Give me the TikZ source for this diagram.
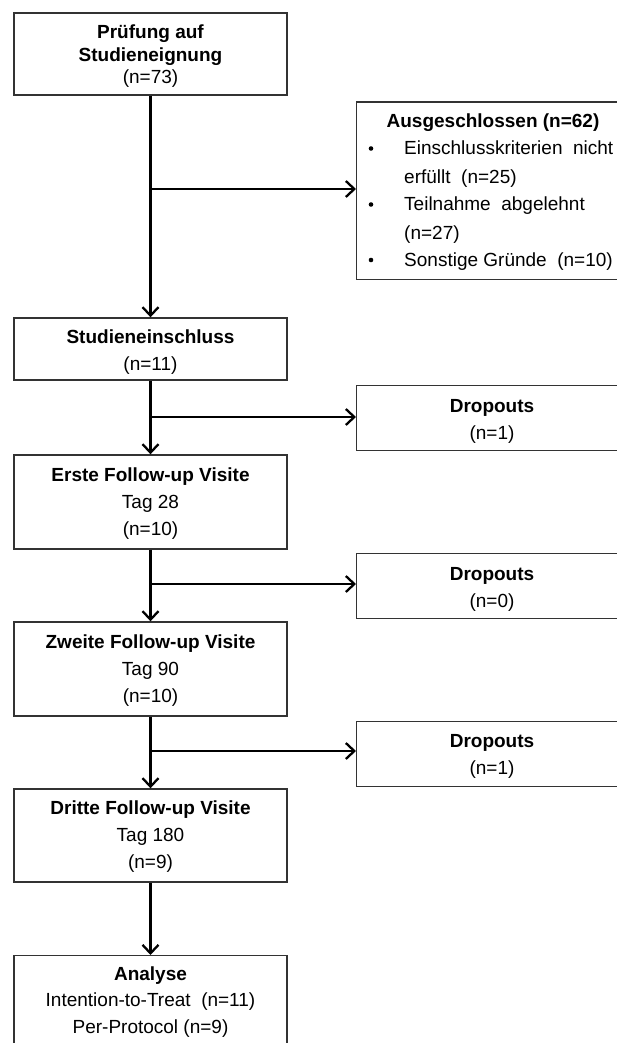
\documentclass[tikz,border=0pt]{standalone}
\usepackage{fontspec}
\setmainfont{Liberation Sans}
\usetikzlibrary{arrows.meta}
\begin{document}
\begin{tikzpicture}[x=1pt,y=-1pt,
  box/.style={draw=black!80, line width=1.4pt, rectangle, inner sep=0pt},
  lbl/.style={inner sep=0pt, align=center, font=\fontsize{19}{27}\selectfont, text=black},
  conn/.style={line width=2.3pt, -{Straight Barb[length=8.5pt,width=16pt,line width=2.3pt]}},
  txt/.style={inner sep=0pt, anchor=base west, font=\fontsize{19}{22}\selectfont, text=black}]
\useasboundingbox (0,0) rectangle (617,1043);
% main column boxes
\node[box, minimum width=273pt, minimum height=82pt] (b1) at (150.5,54) {};
\node[lbl, font=\fontsize{19}{22.5}\selectfont] (b1t) at (150.5,56.5)
  {\textbf{Prüfung auf}\\\textbf{Studieneignung}\\(n=73)};
\node[box, minimum width=273pt, minimum height=62pt] (b2) at (150.5,349) {};
\node[lbl] (b2t) at (150.5,352.5) {\textbf{Studieneinschluss}\\(n=11)};
\node[box, minimum width=273pt, minimum height=94pt] (b3) at (150.5,502) {};
\node[lbl] (b3t) at (150.5,503.5) {\textbf{Erste Follow-up Visite}\\Tag 28\\(n=10)};
\node[box, minimum width=273pt, minimum height=94pt] (b4) at (150.5,669) {};
\node[lbl] (b4t) at (150.5,670.5) {\textbf{Zweite Follow-up Visite}\\Tag 90\\(n=10)};
\node[box, minimum width=273pt, minimum height=93pt] (b5) at (150.5,835.5) {};
\node[lbl] (b5t) at (150.5,836.5) {\textbf{Dritte Follow-up Visite}\\Tag 180\\(n=9)};
\node[box, minimum width=273pt, minimum height=100pt, anchor=north] (b6) at (150.5,955) {};
\node[lbl, font=\fontsize{19}{26.5}\selectfont, anchor=north] (b6t) at (150.5,966.5)
  {\textbf{Analyse}\\Intention-to-Treat\ \ (n=11)\\Per-Protocol (n=9)};
% excluded box
\node[box, minimum width=290pt, minimum height=177pt, anchor=north west] (ex) at (356,101.5) {};
\node[inner sep=0pt, font=\fontsize{19}{22}\selectfont\bfseries, text=black] (ext) at (493,123) {Ausgeschlossen (n=62)};
\node[txt] (e1) at (404,155) {Einschlusskriterien\ \ nicht};
\node[txt] (e2) at (404,183) {erfüllt\ \ (n=25)};
\node[txt] (e3) at (404,211) {Teilnahme\ \ abgelehnt};
\node[txt] (e4) at (404,239) {(n=27)};
\node[txt] (e5) at (404,266) {Sonstige\ Gründe\ \ (n=10)};
\fill (371,148.5) circle (2.3pt);
\fill (371,204.5) circle (2.3pt);
\fill (371,260) circle (2.3pt);
% dropout boxes
\node[box, minimum width=290pt, minimum height=65pt, anchor=north west] (d1) at (356,385) {};
\node[lbl] (d1t) at (492,421) {\textbf{Dropouts}\\(n=1)};
\node[box, minimum width=290pt, minimum height=65pt, anchor=north west] (d2) at (356,552.5) {};
\node[lbl] (d2t) at (492,589) {\textbf{Dropouts}\\(n=0)};
\node[box, minimum width=290pt, minimum height=65pt, anchor=north west] (d3) at (356,720.5) {};
\node[lbl] (d3t) at (492,756) {\textbf{Dropouts}\\(n=1)};
% branch points
\coordinate (j1) at (150.5,189);
\coordinate (j2) at (150.5,417);
\coordinate (j3) at (150.5,584);
\coordinate (j4) at (150.5,751);
% connectors
\draw[conn] (b1.south) -- (b2.north);
\draw[conn] (j1) -- (j1 -| ex.west);
\draw[conn] (b2.south) -- (b3.north);
\draw[conn] (j2) -- (j2 -| d1.west);
\draw[conn] (b3.south) -- (b4.north);
\draw[conn] (j3) -- (j3 -| d2.west);
\draw[conn] (b4.south) -- (b5.north);
\draw[conn] (j4) -- (j4 -| d3.west);
\draw[conn] (b5.south) -- (b6.north);
\end{tikzpicture}
\end{document}
